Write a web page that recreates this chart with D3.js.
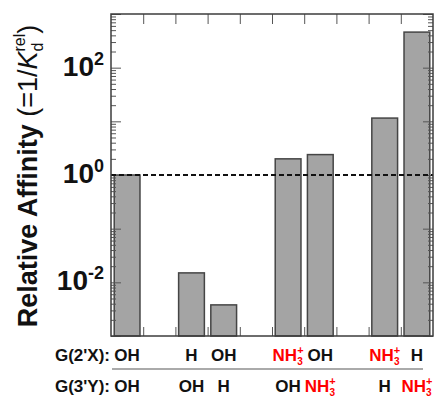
<!DOCTYPE html>
<html>
<head>
<meta charset="utf-8">
<script src="https://cdn.jsdelivr.net/npm/d3@7"></script>
<style>
  body { margin: 0; background: #fff; }
  svg { display: block; }
</style>
</head>
<body>
<script>
// data
const slots = d3.range(10);
const barSlots = [0, 2, 3, 5, 6, 8, 9];
const affinity = [1.0, 0.015, 0.0038, 2.0, 2.4, 11.5, 460];
const rowX = ["OH", "H", "OH", "NH3+", "OH", "NH3+", "H"];
const rowY = ["OH", "OH", "H", "OH", "NH3+", "H", "NH3+"];
const rowNames = ["G(2'X):", "G(3'Y):"];
const labelTicks = [1e-2, 1, 1e2];
const yDomain = [1e-3, 1e3];
const reference = 1;

const width = 437, height = 399;
const marginTop = 14, marginRight = 4, marginBottom = 63, marginLeft = 111;
const font = "'Liberation Sans', Arial, sans-serif";
const frameColor = "#3c3c3c";
const tickColor = "#555";

const x = d3.scaleBand(slots, [marginLeft, width - marginRight])
  .paddingInner(0.2)
  .paddingOuter(0.1);
const xEdge = d3.scaleLinear([0, slots.length], [marginLeft, width - marginRight]);
const y = d3.scaleLog(yDomain, [height - marginBottom, marginTop]);

const decades = d3.range(-3, 4).map((e) => Math.pow(10, e));
const minors = [];
d3.range(-3, 3).forEach((e) => {
  d3.range(2, 10).forEach((k) => minors.push(k * Math.pow(10, e)));
});

const svg = d3.select("body")
  .append("svg")
  .attr("width", width)
  .attr("height", height)
  .attr("viewBox", [0, 0, width, height])
  .attr("font-family", font);

// bars
svg.append("g")
  .selectAll("rect")
  .data(affinity)
  .join("rect")
  .attr("x", (d, i) => x(barSlots[i]))
  .attr("y", (d) => y(d))
  .attr("width", x.bandwidth())
  .attr("height", (d) => y(yDomain[0]) - y(d))
  .attr("fill", "#a4a4a4")
  .attr("stroke", "#454545")
  .attr("stroke-width", 1.5);

// ticks, all pointing inward
function styleTicks(g) {
  g.select(".domain").remove();
  g.selectAll(".tick line").attr("stroke", tickColor).attr("stroke-width", 1);
  g.selectAll(".tick text").remove();
}
svg.append("g").attr("transform", `translate(${marginLeft},0)`)
  .call(d3.axisRight(y).tickValues(decades).tickSize(10)).call(styleTicks);
svg.append("g").attr("transform", `translate(${marginLeft},0)`)
  .call(d3.axisRight(y).tickValues(minors).tickSize(5)).call(styleTicks);
svg.append("g").attr("transform", `translate(${width - marginRight},0)`)
  .call(d3.axisLeft(y).tickValues(decades).tickSize(10)).call(styleTicks);
svg.append("g").attr("transform", `translate(${width - marginRight},0)`)
  .call(d3.axisLeft(y).tickValues(minors).tickSize(5)).call(styleTicks);
svg.append("g").attr("transform", `translate(0,${marginTop})`)
  .call(d3.axisBottom(xEdge).tickValues(d3.range(1, slots.length)).tickSize(10)).call(styleTicks);
svg.append("g").attr("transform", `translate(0,${height - marginBottom})`)
  .call(d3.axisTop(xEdge).tickValues(d3.range(1, slots.length)).tickSize(9)).call(styleTicks);

// reference line
svg.append("line")
  .attr("x1", marginLeft)
  .attr("x2", width - marginRight)
  .attr("y1", y(reference))
  .attr("y2", y(reference))
  .attr("stroke", "#111")
  .attr("stroke-width", 2)
  .attr("stroke-dasharray", "5,3");

// frame
svg.append("rect")
  .attr("x", marginLeft)
  .attr("y", marginTop)
  .attr("width", width - marginLeft - marginRight)
  .attr("height", height - marginTop - marginBottom)
  .attr("fill", "none")
  .attr("stroke", frameColor)
  .attr("stroke-width", 1.5);

// tick labels 10^n
const tl = svg.append("g")
  .selectAll("text")
  .data(labelTicks)
  .join("text")
  .attr("x", marginLeft - 7)
  .attr("y", (d) => y(d) + 8)
  .attr("text-anchor", "end")
  .attr("font-size", 28)
  .attr("font-weight", 700)
  .attr("fill", "#111");
tl.append("tspan").text("10");
tl.append("tspan")
  .attr("font-size", 18)
  .attr("dy", -11)
  .text((d) => Math.round(Math.log10(d)));

// y axis title
const title = svg.append("text")
  .attr("transform", `translate(37,${(marginTop + height - marginBottom) / 2 + 1}) rotate(-90)`)
  .attr("text-anchor", "middle")
  .attr("font-size", 27)
  .attr("fill", "#111");
title.append("tspan").attr("font-weight", 700).text("Relative Affinity ");
title.append("tspan").text("(=1/");
title.append("tspan").attr("font-style", "italic").text("K");
title.append("tspan").attr("font-size", 16).attr("dy", 6).text("d");
title.append("tspan").attr("font-size", 16).attr("dx", -9).attr("dy", -18).text("rel");
title.append("tspan").attr("dy", 12).text(")");

// substitution table
const rowBase = [361, 392];
const rows = [rowX, rowY];

svg.append("line")
  .attr("x1", marginLeft + 1)
  .attr("x2", xEdge(slots.length) - 10)
  .attr("y1", 369)
  .attr("y2", 369)
  .attr("stroke", "#aaa")
  .attr("stroke-width", 2);

rows.forEach((row, r) => {
  svg.append("text")
    .attr("x", marginLeft - 1)
    .attr("y", rowBase[r])
    .attr("text-anchor", "end")
    .attr("font-size", 17)
    .attr("font-weight", 700)
    .attr("fill", "#111")
    .text(rowNames[r]);

  const cells = svg.append("g")
    .selectAll("text")
    .data(row)
    .join("text")
    .attr("x", (d, i) => x(barSlots[i]) + x.bandwidth() / 2)
    .attr("y", rowBase[r])
    .attr("text-anchor", "middle")
    .attr("font-size", 17)
    .attr("font-weight", 700)
    .attr("fill", (d) => (d === "NH3+" ? "#ff0000" : "#111"));

  cells.each(function (d) {
    const t = d3.select(this);
    if (d === "NH3+") {
      t.append("tspan").text("NH");
      t.append("tspan").attr("font-size", 11).attr("dy", -7).text("+");
      t.append("tspan").attr("font-size", 10).attr("dx", -6.3).attr("dy", 11).text("3");
    } else {
      t.text(d);
    }
  });
});
</script>
</body>
</html>
